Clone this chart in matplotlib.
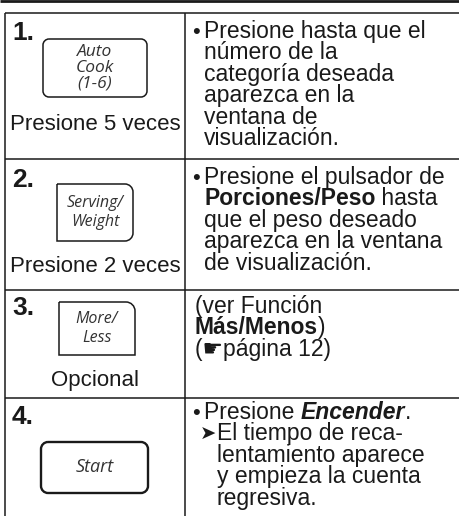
import re
import matplotlib
matplotlib.use("Agg")
import matplotlib.pyplot as plt
from matplotlib.path import Path
from matplotlib.patches import PathPatch
from matplotlib.font_manager import FontProperties

# ---- table content ----
steps = ["1.", "2.", "3.", "4."]
button_labels = [["Auto", "Cook", "(1-6)"], ["Serving/", "Weight"], ["More/", "Less"], ["Start"]]
press_notes = ["Presione 5 veces", "Presione 2 veces", "Opcional", ""]
instructions = [
    ["• Presione hasta que el", "número de la", "categoría deseada",
     "aparezca en la", "ventana de", "visualización."],
    ["• Presione el pulsador de", "**Porciones/Peso** hasta", "que el peso deseado",
     "aparezca en la ventana", "de visualización."],
    ["(ver Función", "**Más/Menos**)", "(☛página 12)"],
    ["• Presione ***Encender***.", "➤El tiempo de reca-", "lentamiento aparece",
     "y empieza la cuenta", "regresiva."],
]

# ---- layout (pixels) ----
W, H = 459, 516
row_tops = [13, 159, 290, 398]
col_x = 185
left_x = 5
num_off = [27, 28, 25, 26]
txt_off = [25, 25, 23, 21]
line_h = 21.4
note_base = [130, 272, 386]
boxes = [(43, 39, 147, 97, (6, 6, 6, 6), 1.1),
         (57, 184, 133, 241, (0, 8, 8, 0), 1.1),
         (59, 302, 135, 355, (0, 9, 0, 0), 1.1),
         (41, 442, 148, 493, (7, 7, 7, 7), 1.7)]
btn_size = [12.5, 11.5, 11.5, 13]

FAM = ["Liberation Sans", "DejaVu Sans"]
BTN_FAM = ["Open Sans", "DejaVu Sans"]
FS = 16.5
FS_LEFT = 16
INK = "#1a1a1a"

fig = plt.figure(figsize=(W / 100, H / 100), dpi=100)
ax = fig.add_axes([0, 0, 1, 1])
ax.set_xlim(0, W)
ax.set_ylim(H, 0)
ax.axis("off")
renderer = fig.canvas.get_renderer()

# lines
ax.plot([0, W], [1, 1], color=INK, lw=2.0, solid_capstyle="butt")
for y in row_tops:
    ax.plot([left_x, W], [y, y], color=INK, lw=1.1, solid_capstyle="butt")
for x in (left_x, col_x):
    ax.plot([x, x], [row_tops[0], H], color=INK, lw=1.1, solid_capstyle="butt")


def rounded_box(x0, y0, x1, y1, radii, lw):
    # radii: top-left, top-right, bottom-right, bottom-left (y grows downward)
    tl, tr, br, bl = radii
    k = 0.55
    verts = [(x0 + tl, y0), (x1 - tr, y0)]
    codes = [Path.MOVETO, Path.LINETO]
    if tr:
        verts += [(x1 - tr + k * tr, y0), (x1, y0 + tr - k * tr), (x1, y0 + tr)]
        codes += [Path.CURVE4] * 3
    verts.append((x1, y1 - br)); codes.append(Path.LINETO)
    if br:
        verts += [(x1, y1 - br + k * br), (x1 - br + k * br, y1), (x1 - br, y1)]
        codes += [Path.CURVE4] * 3
    verts.append((x0 + bl, y1)); codes.append(Path.LINETO)
    if bl:
        verts += [(x0 + bl - k * bl, y1), (x0, y1 - bl + k * bl), (x0, y1 - bl)]
        codes += [Path.CURVE4] * 3
    verts.append((x0, y0 + tl)); codes.append(Path.LINETO)
    if tl:
        verts += [(x0, y0 + tl - k * tl), (x0 + tl - k * tl, y0), (x0 + tl, y0)]
        codes += [Path.CURVE4] * 3
    ax.add_patch(PathPatch(Path(verts, codes), fc="none", ec=INK, lw=lw))


def text_width(s, prop):
    w1, _, _ = renderer.get_text_width_height_descent("|" + s + "|", prop, ismath=False)
    w0, _, _ = renderer.get_text_width_height_descent("||", prop, ismath=False)
    return w1 - w0


def draw_runs(x, y, line):
    parts = re.split(r"(\*\*\*.+?\*\*\*|\*\*.+?\*\*)", line)
    for p in parts:
        if not p:
            continue
        weight, style = "normal", "normal"
        if p.startswith("***"):
            p, weight, style = p[3:-3], "bold", "italic"
        elif p.startswith("**"):
            p, weight = p[2:-2], "bold"
        prop = FontProperties(family=FAM, size=FS, weight=weight, style=style)
        ax.text(x, y, p, fontproperties=prop, color=INK, ha="left", va="baseline")
        x += text_width(p, prop)


for i, top in enumerate(row_tops):
    # step number
    ax.text(12, top + num_off[i], steps[i], fontsize=19, fontweight="bold",
            family=FAM, color=INK, ha="left", va="baseline")
    # button
    x0, y0, x1, y1, radii, lw = boxes[i]
    rounded_box(x0, y0, x1, y1, radii, lw)
    lab = button_labels[i]
    cy = (y0 + y1) / 2
    bh = 16 if len(lab) == 3 else 18.5
    for j, s in enumerate(lab):
        yy = cy + (j - (len(lab) - 1) / 2) * bh
        ax.text((x0 + x1) / 2, yy, s, fontsize=btn_size[i], fontstyle="italic",
                family=BTN_FAM, color="#333333", ha="center", va="center")
    # note under button
    if press_notes[i]:
        ax.text(95, note_base[i], press_notes[i], fontsize=FS_LEFT, family=FAM,
                color=INK, ha="center", va="baseline")
    # instruction lines
    indent = 195
    for j, line in enumerate(instructions[i]):
        y = top + txt_off[i] + j * line_h
        if line.startswith("• "):
            ax.text(192, y, "•", fontsize=16, family=FAM, color=INK, ha="left", va="baseline")
            indent = 204
            line = line[2:]
        elif line.startswith("➤"):
            ax.text(200, y - 0.5, "➤", fontsize=14, family=["DejaVu Sans"], color=INK,
                    ha="left", va="baseline")
            indent = 217
            line = line[1:]
        draw_runs(indent, y, line)

fig.savefig("out.png", dpi=100, facecolor="white")
